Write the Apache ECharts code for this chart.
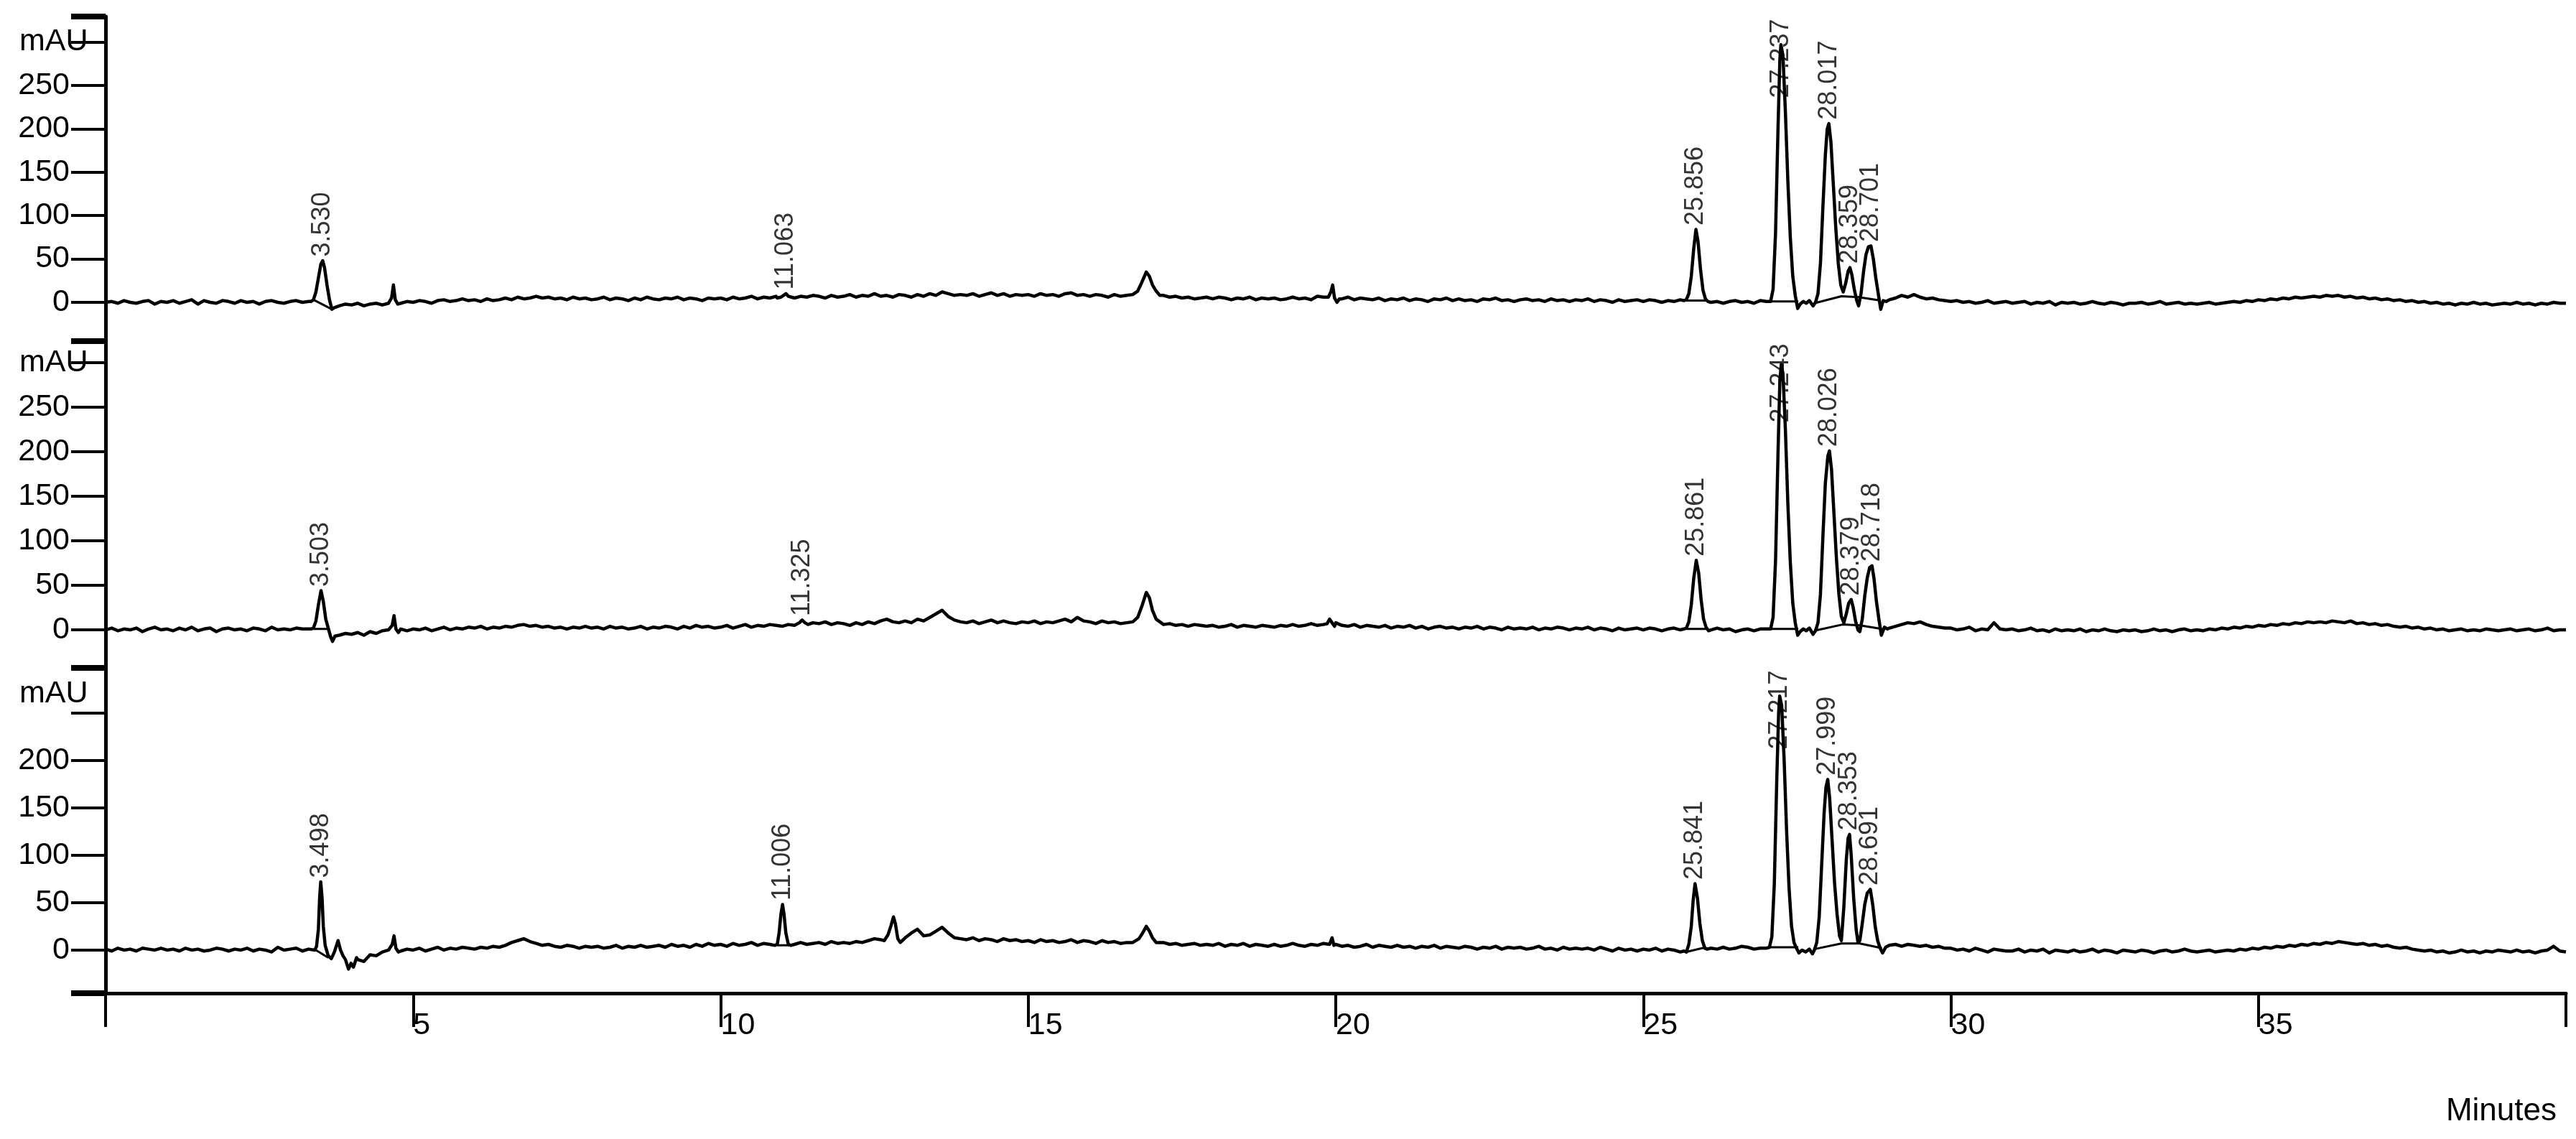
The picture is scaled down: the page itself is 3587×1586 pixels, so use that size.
<!DOCTYPE html>
<html>
<head>
<meta charset="utf-8">
<script src="https://cdn.jsdelivr.net/npm/echarts@6.0.0/dist/echarts.min.js"></script>
<style>html,body{margin:0;padding:0;background:#fff}#c{width:3587px;height:1586px}</style>
</head>
<body>
<div id="c"></div>
<script>
// ---------- DATA ----------
const STEP = 0.1; // baseline sampling step in minutes, samples at 0.0 ... 40.0
const xTicks = [5, 10, 15, 20, 25, 30, 35];

// Panel 1 baseline (mAU), one row per minute
const base1 = [
 0,1,-1,2,0,-1,1,2,-2,1,
 0,2,-1,1,3,-2,2,0,-1,2,
 1,-1,2,0,1,-2,1,2,0,-1,
 1,2,0,1,0,0,0,0,-4,-2,
 -3,-1,-4,-2,-1,-3,0,0,-1,1,
 0,2,1,-1,2,3,1,2,4,2,
 3,1,4,2,3,5,3,6,4,5,
 7,5,6,4,5,3,6,4,5,3,
 4,6,3,5,4,2,5,3,6,4,
 3,5,4,6,3,5,4,2,5,4,
 5,3,6,4,5,7,4,6,5,7,
 0,0,5,7,6,8,7,5,8,6,
 7,9,6,8,7,10,7,8,6,9,
 8,6,9,7,10,8,12,10,8,9,
 8,10,7,9,11,8,10,7,9,8,
 9,7,10,8,9,7,10,11,8,9,
 7,9,8,6,9,7,8,0,0,0,
 0,0,8,6,7,5,6,4,5,6,
 4,6,5,3,5,4,6,3,5,4,
 5,3,4,6,4,5,3,7,6,0,
 0,4,6,3,5,4,3,5,2,4,
 3,5,2,4,3,1,4,3,5,2,
 4,2,3,1,4,3,5,2,3,1,
 3,4,2,3,1,4,2,3,1,3,
 2,4,1,3,2,0,3,1,2,3,
 1,3,2,0,2,1,3,0,0,0,
 0,0,1,-1,1,2,0,1,-1,2,
 1,0,0,0,0,0,0,0,0,0,
 0,0,0,0,0,0,0,0,0,0,
 3,5,8,6,9,6,4,5,3,2,
 1,2,0,1,-1,0,2,-1,0,1,
 -1,0,1,-2,0,-1,1,-3,0,-1,
 0,-2,-1,1,-1,-2,0,-1,-3,-1,
 -1,0,-2,-1,1,-2,-1,0,-2,-1,
 -2,-1,0,-2,-1,0,1,0,2,1,
 3,2,4,3,5,4,6,5,6,7,
 6,8,7,8,6,7,5,6,4,5,
 3,4,2,3,1,2,0,1,-1,0,
 -2,-1,-3,-1,-2,0,-2,-1,-3,-2,
 -1,-2,0,-2,-1,-3,-1,-2,0,-1,
 -1
];
const peaks1 = [
 [[3.34,1],[3.38,3],[3.42,12],[3.46,28],[3.50,44],[3.53,48],[3.56,40],[3.60,20],[3.64,3],[3.68,-8],[3.72,-6]],
 [[4.60,-1],[4.65,5],[4.68,20],[4.71,3],[4.75,-2]],
 [[10.92,5],[10.98,6],[11.02,8],[11.063,10],[11.10,7],[11.15,6]],
 [[16.70,9],[16.78,13],[16.84,22],[16.92,35],[16.97,30],[17.02,20],[17.08,13],[17.14,8]],
 [[19.88,6],[19.92,12],[19.95,20],[19.98,5],[20.02,0],[20.06,4]],
 [[25.66,2],[25.70,3],[25.74,10],[25.78,30],[25.82,62],[25.856,84],[25.89,70],[25.93,38],[25.97,14],[26.01,4],[26.05,1]],
 [[27.07,1],[27.11,15],[27.15,80],[27.19,200],[27.22,280],[27.237,297],[27.27,285],[27.31,220],[27.35,140],[27.39,75],[27.43,30],[27.47,8],[27.51,-7],[27.55,-2],[27.60,1],[27.65,-1],[27.70,2],[27.76,-4]],
 [[27.80,0],[27.84,10],[27.88,45],[27.92,110],[27.96,170],[27.99,200],[28.017,206],[28.05,185],[28.09,135],[28.13,85],[28.17,45],[28.21,20],[28.25,12],[28.29,22],[28.33,36],[28.359,40],[28.39,32],[28.43,15],[28.47,2],[28.50,-4],[28.54,10],[28.58,35],[28.62,55],[28.66,64],[28.701,65],[28.74,50],[28.78,28],[28.82,10],[28.86,-8],[28.90,2],[28.95,1]]
];
const labels1 = [[3.530,48],[11.063,10],[25.856,84],[27.237,297],[28.017,206],[28.359,40],[28.701,65]];
const integ1 = [
 [[3.38,3],[3.68,-8]],
 [[25.70,2],[26.02,2]],
 [[27.05,1],[27.52,1]],
 [[27.78,-1],[28.22,7],[28.50,6],[28.86,2]]
];

// Panel 2
const base2 = [
 0,2,-1,1,0,2,-2,1,3,0,
 1,-1,2,0,3,-1,1,2,-2,1,
 2,0,1,-1,2,1,-1,3,0,1,
 0,2,1,1,0,0,0,0,-6,-4,
 -5,-3,-6,-2,-4,-1,0,0,1,-1,
 1,0,2,-1,1,3,0,2,1,3,
 2,4,1,3,2,4,3,5,6,4,
 5,3,4,2,3,1,3,2,4,2,
 3,1,4,2,3,1,2,4,1,3,
 2,4,3,1,4,2,5,3,4,2,
 3,5,2,4,6,3,5,4,6,5,
 4,6,5,0,0,8,7,9,6,8,
 7,5,8,6,9,7,10,12,9,8,
 10,8,12,10,14,18,22,15,11,9,
 8,10,7,9,11,8,10,8,7,9,
 8,10,7,9,8,10,12,9,14,10,
 9,7,10,8,9,7,8,0,0,0,
 0,0,6,7,5,6,4,6,5,4,
 5,3,4,6,3,5,4,3,5,4,
 3,5,4,6,4,5,7,5,6,0,
 8,5,4,6,3,5,4,3,5,2,
 4,3,5,2,4,1,3,4,2,3,
 1,3,2,4,1,3,2,0,3,1,
 2,1,3,0,2,1,3,2,0,2,
 1,3,0,2,1,-1,2,0,1,2,
 0,2,1,-1,1,2,0,0,0,0,
 0,0,2,0,1,-2,0,1,-1,1,
 1,0,0,0,0,0,0,0,0,0,
 0,0,0,0,0,0,0,0,0,0,
 2,4,6,8,7,9,6,4,3,2,
 2,0,1,3,-1,1,0,8,1,0,
 1,-1,0,2,-1,0,-2,1,-1,0,
 -1,1,-2,0,-1,1,-1,-2,0,-1,
 0,-2,-1,1,-1,0,-2,0,1,-1,
 0,-1,1,0,2,1,3,2,4,3,
 5,4,6,5,7,6,8,7,9,8,
 9,8,10,9,8,10,7,8,6,7,
 5,6,4,3,4,2,3,1,2,0,
 1,-1,0,1,-1,0,-1,1,0,-1,
 0,1,-1,0,1,-1,0,2,-1,0,
 0
];
const peaks2 = [
 [[3.34,1],[3.38,2],[3.42,10],[3.46,28],[3.503,44],[3.54,32],[3.58,12],[3.62,2],[3.66,-8],[3.69,-13],[3.73,-7]],
 [[4.62,-1],[4.66,5],[4.69,16],[4.72,1],[4.76,-3]],
 [[11.22,6],[11.28,8],[11.325,11],[11.37,8],[11.42,6]],
 [[16.70,9],[16.78,14],[16.85,27],[16.92,42],[16.97,36],[17.02,22],[17.08,12],[17.14,9]],
 [[19.86,7],[19.90,12],[19.94,8],[19.98,4]],
 [[25.66,1],[25.70,2],[25.74,9],[25.78,28],[25.82,58],[25.861,78],[25.90,64],[25.94,34],[25.98,12],[26.02,3],[26.06,-1]],
 [[27.07,1],[27.11,14],[27.15,78],[27.19,198],[27.22,280],[27.243,298],[27.27,288],[27.31,225],[27.35,142],[27.39,76],[27.43,30],[27.47,8],[27.51,-6],[27.55,-2],[27.60,1],[27.65,-1],[27.70,2],[27.76,-5]],
 [[27.80,-1],[27.84,8],[27.88,40],[27.92,105],[27.96,165],[28.00,195],[28.026,201],[28.06,180],[28.10,130],[28.14,80],[28.18,40],[28.22,15],[28.26,8],[28.30,18],[28.34,30],[28.379,34],[28.41,26],[28.45,10],[28.49,0],[28.52,-2],[28.56,12],[28.60,38],[28.64,58],[28.68,70],[28.718,72],[28.75,58],[28.79,32],[28.83,12],[28.87,-6],[28.92,3],[28.97,1]]
];
const labels2 = [[3.503,44],[11.325,11],[25.861,78],[27.243,298],[28.026,201],[28.379,34],[28.718,72]];
const integ2 = [
 [[3.38,1],[3.63,1]],
 [[25.70,1],[26.04,1]],
 [[27.05,1],[27.52,1]],
 [[27.78,-1],[28.24,6],[28.52,5],[28.88,1]]
];

// Panel 3
const base3 = [
 1,-1,2,0,1,-1,2,1,0,2,
 0,1,-1,2,0,1,-1,0,2,1,
 -1,1,0,2,-1,1,0,-2,3,0,
 1,2,-1,1,0,0,0,0,0,0,
 0,-10,-12,-5,-6,-2,0,0,-1,1,
 0,2,-1,1,3,0,2,1,3,2,
 1,3,2,4,3,5,8,10,12,9,
 7,5,6,4,3,5,4,2,4,3,
 4,2,3,5,2,4,3,5,3,4,
 5,3,6,4,5,3,6,4,7,5,
 6,4,7,5,6,8,5,7,6,0,
 0,0,6,8,6,7,8,6,9,7,
 8,7,9,8,10,12,11,0,0,0,
 13,18,22,15,16,20,24,18,13,12,
 11,13,10,12,11,9,12,10,11,9,
 10,8,11,9,10,8,9,11,8,10,
 9,7,10,8,9,7,8,8,0,0,
 0,7,8,6,7,5,6,7,5,6,
 5,7,4,6,5,7,4,6,5,4,
 6,4,5,7,5,4,6,5,7,0,
 6,4,5,3,4,6,3,5,4,3,
 5,3,4,2,4,3,5,2,4,3,
 2,4,3,1,3,2,4,1,3,2,
 3,1,2,4,1,2,0,3,1,2,
 1,2,0,3,1,-1,2,0,1,-1,
 1,0,2,-1,1,0,-2,0,0,0,
 0,2,1,3,1,2,4,3,1,2,
 2,0,0,0,0,0,0,0,0,0,
 0,0,0,0,0,0,0,0,0,0,
 5,6,4,6,5,4,5,3,4,2,
 2,0,1,-1,2,0,-2,1,0,-1,
 -1,1,-2,0,-1,1,-3,0,-1,-2,
 0,-2,-1,1,-2,0,-1,-3,0,-1,
 -2,0,-1,-3,-1,0,-2,-1,1,-1,
 -2,-1,0,-2,-1,0,-1,1,0,2,
 1,3,2,4,3,5,4,6,5,7,
 6,8,7,9,8,7,6,7,5,6,
 4,5,3,2,3,1,0,-1,0,-2,
 -1,-3,-2,0,-2,-1,-3,-1,-2,0,
 -1,-2,0,-2,-1,-3,-1,0,4,-1,
 -2
];
const peaks3 = [
 [[3.40,0],[3.43,4],[3.46,22],[3.48,55],[3.498,72],[3.52,55],[3.54,25],[3.57,5],[3.62,-6],[3.67,-9],[3.72,-2],[3.78,10],[3.82,0],[3.86,-6],[3.90,-10],[3.95,-20],[3.99,-14],[4.03,-18],[4.08,-8]],
 [[4.62,-1],[4.66,6],[4.69,15],[4.72,2],[4.76,-2]],
 [[10.88,5],[10.92,6],[10.95,18],[10.98,38],[11.006,48],[11.03,38],[11.06,18],[11.10,6],[11.14,5]],
 [[12.66,10],[12.72,16],[12.77,26],[12.81,35],[12.84,28],[12.88,12],[12.92,8]],
 [[16.72,8],[16.80,12],[16.86,18],[16.92,25],[16.97,20],[17.02,13],[17.08,8]],
 [[19.90,6],[19.94,13],[19.97,5]],
 [[25.66,-1],[25.70,-2],[25.74,6],[25.78,25],[25.81,52],[25.841,70],[25.88,55],[25.92,28],[25.96,10],[26.00,2],[26.04,1]],
 [[27.05,3],[27.09,14],[27.13,70],[27.17,180],[27.20,250],[27.217,268],[27.25,258],[27.29,200],[27.33,125],[27.37,65],[27.41,25],[27.45,8],[27.49,2],[27.53,-3],[27.58,0],[27.64,-2],[27.70,1],[27.75,-4]],
 [[27.78,0],[27.82,8],[27.86,35],[27.90,90],[27.94,145],[27.97,172],[27.999,180],[28.03,160],[28.07,115],[28.11,70],[28.15,38],[28.19,15],[28.22,10],[28.26,45],[28.30,95],[28.33,118],[28.353,122],[28.38,100],[28.42,55],[28.46,22],[28.49,8],[28.52,10],[28.56,28],[28.60,48],[28.64,60],[28.691,64],[28.73,48],[28.77,25],[28.81,10],[28.85,2],[28.89,-3],[28.94,3]]
];
const labels3 = [[3.498,72],[11.006,48],[25.841,70],[27.217,268],[27.999,180],[28.353,122],[28.691,64]];
const integ3 = [
 [[3.42,0],[3.62,-8]],
 [[10.92,5],[11.12,5]],
 [[25.70,-2],[26.02,3]],
 [[27.05,3],[27.52,3]],
 [[27.78,1],[28.22,7],[28.52,7],[28.88,2]]
];

const yTicks12 = [0, 50, 100, 150, 200, 250, 300];
const yLabels12 = [0, 50, 100, 150, 200, 250, 300]; // 300 shown as "mAU"
const yTicks3 = [0, 50, 100, 150, 200, 250];
const yLabels3 = [0, 50, 100, 150, 200, 270];       // 270 shown as "mAU"

// ---------- BUILD ----------
const FONT = '"Liberation Sans", Arial, sans-serif';
function buildTrace(base, peaks) {
  const ranges = peaks.map(p => [p[0][0], p[p.length - 1][0]]);
  const pts = [];
  base.forEach((v, i) => {
    const t = +(i * STEP).toFixed(2);
    if (!ranges.some(r => t >= r[0] && t <= r[1])) pts.push([t, v]);
  });
  peaks.forEach(p => p.forEach(q => pts.push(q)));
  pts.sort((a, b) => a[0] - b[0]);
  return pts;
}

const panels = [
  {base: base1, peaks: peaks1, labels: labels1, integ: integ1, top: 23, height: 452, min: -44.7, max: 329.5, ticks: yTicks12, lab: yLabels12, unit: 300},
  {base: base2, peaks: peaks2, labels: labels2, integ: integ2, top: 475, height: 455, min: -42.7, max: 324.2, ticks: yTicks12, lab: yLabels12, unit: 300},
  {base: base3, peaks: peaks3, labels: labels3, integ: integ3, top: 930, height: 453, min: -45.5, max: 297.7, ticks: yTicks3, lab: yLabels3, unit: 270}
];

const ctx = document.createElement('canvas').getContext('2d');
ctx.font = '36px "Liberation Sans"';
const LABEL_DIST = 5;

const grid = [], xAxis = [], yAxis = [], series = [];
panels.forEach((p, i) => {
  grid.push({left: 147, right: 14, top: p.top, height: p.height, containLabel: false});
  const isBottom = i === panels.length - 1;
  xAxis.push({
    gridIndex: i, type: 'value', min: 0, max: 40, interval: 5, show: isBottom,
    axisLine: {show: true, onZero: false, lineStyle: {color: '#000', width: 5}},
    axisTick: {show: true, length: 47, lineStyle: {color: '#000', width: 4}},
    axisLabel: {
      show: true, margin: 24, align: 'left', color: '#000', fontSize: 43, fontFamily: FONT,
      formatter: v => (xTicks.indexOf(v) >= 0 ? String(v) : '')
    },
    splitLine: {show: false}
  });
  yAxis.push({
    gridIndex: i, type: 'value', min: p.min, max: p.max, position: 'left',
    axisLine: {show: true, onZero: false, lineStyle: {color: '#000', width: 5}},
    axisTick: {show: true, customValues: p.ticks, length: 48, lineStyle: {color: '#000', width: 4}},
    axisLabel: {
      show: true, customValues: p.lab, margin: 50, color: '#000', fontSize: 43, fontFamily: FONT,
      formatter: v => (v === p.unit ? '{u|mAU}' : String(v)),
      rich: {u: {width: 70, align: 'left', fontSize: 43, fontFamily: FONT, color: '#000'}}
    },
    splitLine: {show: false}
  });
  yAxis.push({
    gridIndex: i, type: 'value', min: p.min, max: p.max, position: 'left',
    axisLine: {show: false, onZero: false},
    axisTick: {show: true, customValues: [p.min, p.max], length: 48, lineStyle: {color: '#000', width: 8}},
    axisLabel: {show: false},
    splitLine: {show: false}
  });

  series.push({
    type: 'line', xAxisIndex: i, yAxisIndex: 2 * i, data: buildTrace(p.base, p.peaks),
    symbol: 'none', showSymbol: false, smooth: false, z: 3,
    lineStyle: {color: '#000', width: 4.5, join: 'round'}
  });
  p.integ.forEach(seg => {
    series.push({
      type: 'line', xAxisIndex: i, yAxisIndex: 2 * i, data: seg,
      symbol: 'none', showSymbol: false, z: 2,
      lineStyle: {color: '#000', width: 3}
    });
  });

  const ppu = p.height / (p.max - p.min);
  const labData = p.labels.map(l => {
    const txt = l[0].toFixed(3);
    const w = ctx.measureText(txt).width;
    const limit = p.max - (w + LABEL_DIST + 4) / ppu;
    return [l[0], Math.min(l[1], limit), txt];
  });
  series.push({
    type: 'scatter', xAxisIndex: i, yAxisIndex: 2 * i, data: labData,
    symbolSize: 1, itemStyle: {color: 'rgba(0,0,0,0)'}, z: 5,
    label: {
      show: true, position: 'top', distance: LABEL_DIST, rotate: 90,
      align: 'left', verticalAlign: 'middle',
      fontSize: 36, fontFamily: FONT, color: '#000',
      formatter: prm => prm.data[2]
    }
  });
});

const chart = echarts.init(document.getElementById('c'), null, {renderer: 'canvas'});
chart.setOption({
  animation: false,
  backgroundColor: '#fff',
  title: {
    text: 'Minutes', right: 22, top: 1521, padding: 5,
    textStyle: {fontSize: 44, fontWeight: 'normal', fontFamily: FONT, color: '#000'}
  },
  grid, xAxis, yAxis, series
});
</script>
</body>
</html>
